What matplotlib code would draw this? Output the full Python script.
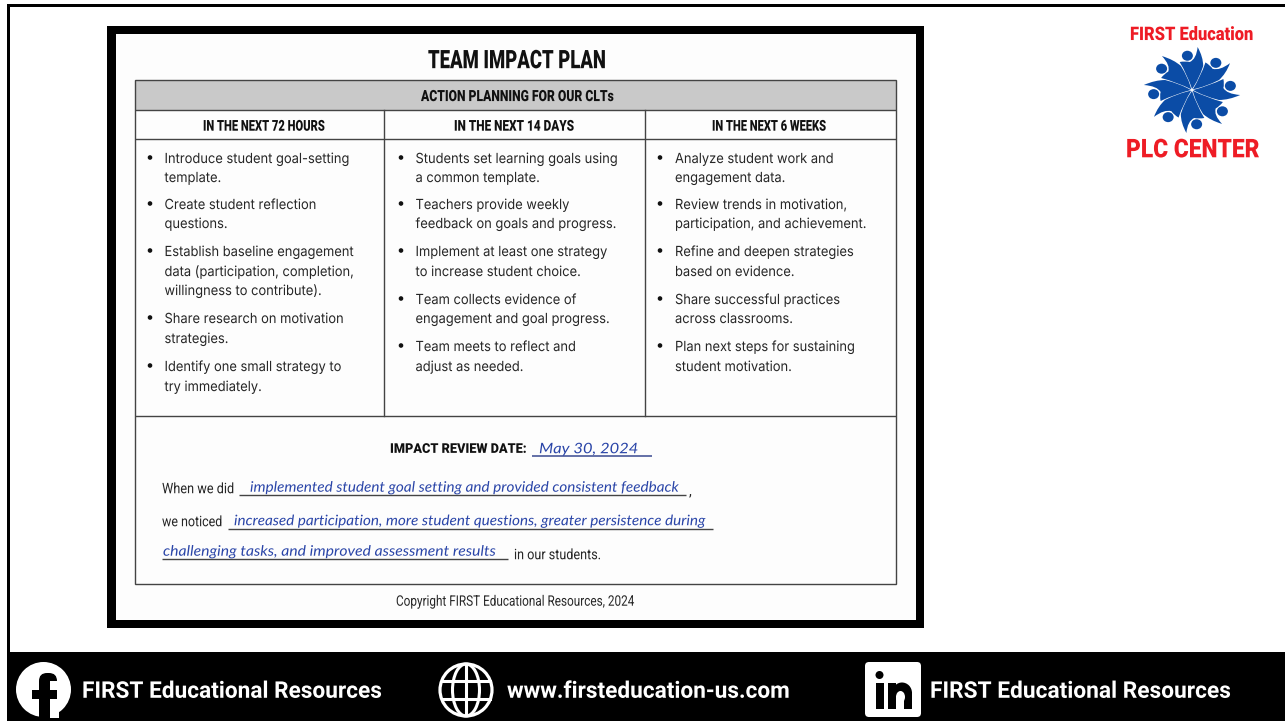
#!/usr/bin/env python3
import numpy as np
import matplotlib
matplotlib.use("Agg")
import matplotlib.pyplot as plt
from matplotlib.patches import Rectangle, Circle, Ellipse, PathPatch, FancyBboxPatch
from matplotlib.patheffects import AbstractPathEffect
from matplotlib.path import Path
from matplotlib.transforms import Affine2D, Bbox

title = "TEAM IMPACT PLAN"
band = "ACTION PLANNING FOR OUR CLTs"
col_heads = ["IN THE NEXT 72 HOURS", "IN THE NEXT 14 DAYS", "IN THE NEXT 6 WEEKS"]
col1 = [["Introduce student goal-setting", "template."],
        ["Create student reflection", "questions."],
        ["Establish baseline engagement", "data (participation, completion,", "willingness to contribute)."],
        ["Share research on motivation", "strategies."],
        ["Identify one small strategy to", "try immediately."]]
col2 = [["Students set learning goals using", "a common template."],
        ["Teachers provide weekly", "feedback on goals and progress."],
        ["Implement at least one strategy", "to increase student choice."],
        ["Team collects evidence of", "engagement and goal progress."],
        ["Team meets to reflect and", "adjust as needed."]]
col3 = [["Analyze student work and", "engagement data."],
        ["Review trends in motivation,", "participation, and achievement."],
        ["Refine and deepen strategies", "based on evidence."],
        ["Share successful practices", "across classrooms."],
        ["Plan next steps for sustaining", "student motivation."]]
review_label = "IMPACT REVIEW DATE:"
review_date = "May 30, 2024"
when_did = "implemented student goal setting and provided consistent feedback"
noticed_1 = "increased participation, more student questions, greater persistence during"
noticed_2 = "challenging tasks, and improved assessment results"
copyright_txt = "Copyright FIRST Educational Resources, 2024"
footer_items = ["FIRST Educational Resources", "www.firsteducation-us.com", "FIRST Educational Resources"]

BLUE = "#2a45a8"
LOGO = "#0b4ca6"
RED = "#ee1c25"
LINE = "#444444"
INK = "#111111"

fig = plt.figure(figsize=(12.85, 7.21), dpi=100)
ax = fig.add_axes([0, 0, 1, 1])
ax.set_xlim(0, 1285)
ax.set_ylim(721, 0)
ax.axis("off")
rend = fig.canvas.get_renderer()

px = lambda p: p * 0.72


# condenses a text sideways, there is no narrow font here
class Squeeze(AbstractPathEffect):
    def __init__(self, sx, x0):
        super().__init__()
        self.sx = sx
        self.x0 = x0

    def draw_path(self, renderer, gc, tpath, affine, rgbFace=None):
        squeezed = affine + Affine2D().translate(-self.x0, 0).scale(self.sx, 1).translate(self.x0, 0)
        renderer.draw_path(gc, tpath, squeezed, rgbFace)


def txt(x, y, s, size, x1=None, sx=None, **kw):
    kw.setdefault("color", "#262626")
    kw.setdefault("family", "Roboto")
    t = ax.text(x, y + 0.36 * size, s, fontsize=px(size), ha="left", va="baseline", **kw)
    if x1 is not None or sx is not None:
        bb = t.get_window_extent(rend)
        if sx is None:
            sx = (x1 - x) / bb.width
        t.set_path_effects([Squeeze(sx, bb.x0)])
        small = Bbox([[bb.x0, bb.y0], [bb.x0 + bb.width * sx, bb.y1]])
        t.get_window_extent = lambda renderer=None, dpi=None: small
    return t


def hline(x0, x1, y, lw=1.0, color=LINE):
    ax.plot([x0, x1], [y, y], color=color, lw=lw, solid_capstyle="butt")


# slide frame and footer
ax.add_patch(Rectangle((7, 4), 1278, 3, color="black", lw=0))
ax.add_patch(Rectangle((7, 4), 3, 650, color="black", lw=0))
ax.add_patch(Rectangle((7, 652), 1278, 69, color="black", lw=0))

# worksheet
ax.add_patch(Rectangle((107, 26), 817, 602, color="black", lw=0))
ax.add_patch(Rectangle((115.5, 34), 800.5, 586, color="#fdfdfd", lw=0))
ax.add_patch(Rectangle((134.5, 80), 761.5, 30, color="#c9c9c9", lw=0))
ax.add_patch(Rectangle((134.5, 80), 761.5, 504, fill=False, ec=LINE, lw=1.0))
for y in [110, 139, 416]:
    hline(134.5, 896, y, 1.0)
for x in [383.5, 644.5]:
    ax.plot([x, x], [110, 416], color=LINE, lw=1.0)

txt(428, 59, title, 25.5, x1=606, weight=900, color=INK)
txt(421, 95.5, band, 15.5, x1=614, weight=900, color=INK)
for x, x1, head in zip([203, 454, 712], [325, 574, 826], col_heads):
    txt(x, 125.3, head, 15, x1=x1, weight=900, color=INK)

# body text width set from the first line of column one
probe = ax.text(0, 0, col1[0][0], fontsize=px(14), family="Inter")
body_sx = 186.5 / probe.get_window_extent(rend).width
probe.remove()

line_ys = [[[158, 177], [204, 223], [251, 271, 290], [318, 338], [366, 386]],
           [[158, 177], [204, 223], [251, 271], [299, 318], [346, 366]],
           [[158, 177], [204, 223], [251, 271], [299, 318], [346, 366]]]
for col, ys, bx, tx in zip([col1, col2, col3], line_ys, [150, 401, 660], [164.5, 415.5, 675]):
    for item, item_ys in zip(col, ys):
        ax.add_patch(Circle((bx, item_ys[0] - 0.5), 2.3, color=INK, lw=0))
        for line, y in zip(item, item_ys):
            txt(tx, y, line, 14, sx=body_sx, family="Inter")

# review section
hand = dict(family="Lato", style="italic", color=BLUE)
txt(390, 448, review_label, 13.5, x1=527, weight=900, color=INK)
hline(532, 652, 455.5, 1.1, "#3a4a90")
txt(539, 448, review_date, 14.5, x1=638, **hand)
txt(162, 488, "When we did", 14.5, x1=234)
hline(239, 686, 495, 1.0)
txt(250, 486.5, when_did, 14.5, x1=678, **hand)
txt(689, 490, ",", 14)
txt(162, 521, "we noticed", 14.5, x1=222)
hline(228, 713, 528.5, 1.0)
txt(234, 520, noticed_1, 14.5, x1=705, **hand)
hline(162, 508, 558.5, 1.0)
txt(163, 550.5, noticed_2, 14.5, x1=495, **hand)
txt(514, 554, "in our students.", 14.5, x1=601)
txt(396, 600.5, copyright_txt, 14.5, x1=634)

# logo, wider than tall like the reference
txt(1130, 33.3, "FIRST Education", 18.7, x1=1253, weight=900, color=RED)
txt(1126, 148, "PLC CENTER", 25.8, x1=1259, weight=900, color=RED)
cx, cy = 1192, 90
stretch = 1.12
blade = Path([(0, -1), (6, -10), (10, -24), (10, -33), (5, -43), (4, -31), (-2, -28),
              (-6, -29), (-11, -28), (-4, -15), (0, -1), (0, -1)],
             [Path.MOVETO, Path.CURVE3, Path.CURVE3, Path.CURVE3, Path.CURVE3, Path.CURVE3, Path.CURVE3,
              Path.CURVE3, Path.CURVE3, Path.CURVE3, Path.CURVE3, Path.CLOSEPOLY])
for k in range(8):
    a = k * np.pi / 4
    t = Affine2D().rotate(a).scale(stretch, 1).translate(cx, cy) + ax.transData
    ax.add_patch(PathPatch(blade, fc=LOGO, ec="none", transform=t))
    dot = (cx + stretch * 34.5 * np.sin(a - 0.12), cy - 34.5 * np.cos(a - 0.12))
    ax.add_patch(Ellipse(dot, 11, 10, color=LOGO, lw=0))

# footer icons
ax.add_patch(Circle((43.5, 689.5), 27.5, color="white", lw=0))
ax.add_patch(FancyBboxPatch((39, 673), 18, 44, boxstyle="round,pad=0,rounding_size=8", fc="black", ec="none"))
ax.add_patch(Rectangle((50, 681), 9, 9, color="white", lw=0))
ax.add_patch(Rectangle((50, 699), 9, 19, color="white", lw=0))
ax.add_patch(Rectangle((39, 705), 11, 12, color="black", lw=0))
ax.add_patch(Rectangle((32, 690), 25, 9, color="black", lw=0))

gx, gy = 466, 690
ax.add_patch(Circle((gx, gy), 26, fill=False, ec="white", lw=2.3))
ax.add_patch(Ellipse((gx, gy), 27, 52, fill=False, ec="white", lw=2.2))
ax.plot([gx, gx], [gy - 25, gy + 25], color="white", lw=2.2)
for dy in [-9, 9]:
    w = np.sqrt(26 ** 2 - dy ** 2)
    ax.plot([gx - w, gx + w], [gy + dy, gy + dy], color="white", lw=2.2)

ax.add_patch(FancyBboxPatch((865, 662), 56, 55, boxstyle="round,pad=0,rounding_size=4", fc="white", ec="none"))
ax.add_patch(Circle((879.5, 675), 4, color="black", lw=0))
ax.add_patch(Rectangle((875.5, 683), 8, 25.5, color="black", lw=0))
ax.add_patch(Rectangle((888, 683), 7.5, 25.5, color="black", lw=0))
ax.add_patch(Rectangle((904, 692), 8, 16.5, color="black", lw=0))
ax.add_patch(Ellipse((902, 693), 20, 21, fc="black", ec="none"))
ax.add_patch(Ellipse((900.5, 697), 9, 12, fc="white", ec="none"))
ax.add_patch(Rectangle((895.5, 696), 8.5, 13, color="white", lw=0))

for x, x1, s in zip([82, 507, 930], [382, 790, 1231], footer_items):
    txt(x, 689.5, s, 23, x1=x1, weight="bold", color="white")

fig.savefig("out.png", dpi=100)
